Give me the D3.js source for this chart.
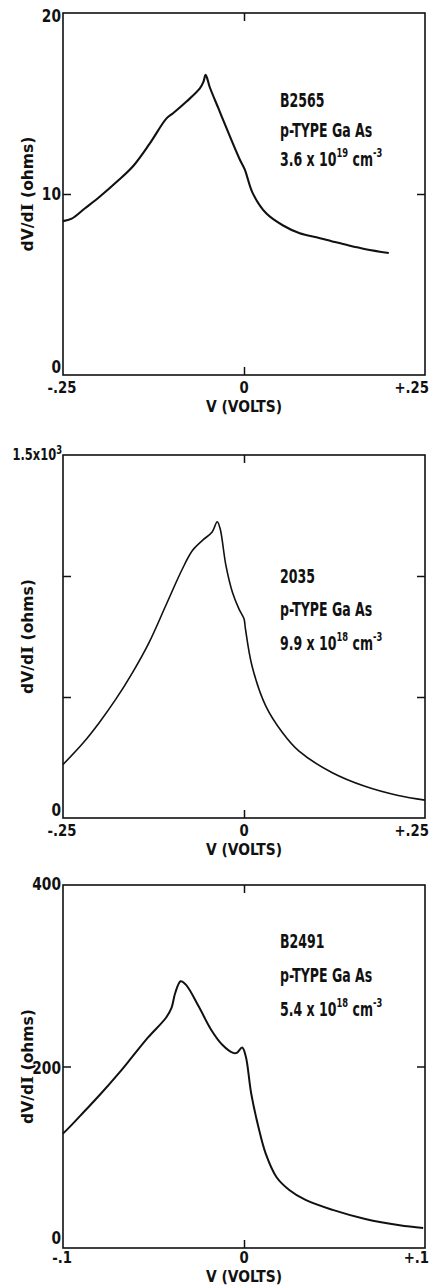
<!DOCTYPE html>
<html>
<head>
<meta charset="utf-8">
<script src="https://cdn.jsdelivr.net/npm/d3@7"></script>
<style>
  body { margin: 0; background: #fff; }
  text { font-family: "DejaVu Sans Condensed", "DejaVu Sans", sans-serif; fill: #111; font-weight: bold; }
</style>
</head>
<body>
<script>
// panel 1: B2565, dV/dI (ohms) vs V (volts)
const volts1 = [-0.250, -0.238, -0.220, -0.199, -0.175, -0.153, -0.130, -0.107, -0.098, -0.079, -0.061, -0.056, -0.053,
  -0.047, -0.035, -0.024, -0.006, 0.001, 0.012, 0.031, 0.054, 0.077, 0.100, 0.122, 0.145, 0.168, 0.200];
const ohms1 = [8.5, 8.64, 9.2, 9.86, 10.7, 11.55, 12.8, 14.18, 14.46, 15.12, 15.83, 16.2, 16.58,
  15.87, 14.7, 13.62, 11.92, 11.36, 10.05, 8.92, 8.26, 7.83, 7.61, 7.38, 7.15, 6.95, 6.74];

// panel 2: 2035
const volts2 = [-0.250, -0.222, -0.200, -0.177, -0.154, -0.131, -0.108, -0.085, -0.071, -0.057, -0.044, -0.037,
  -0.033, -0.025, -0.016, -0.007, 0.000, 0.002, 0.011, 0.030, 0.053, 0.076, 0.122, 0.167, 0.213, 0.250];
const ohms2 = [221, 311, 394, 491, 601, 726, 878, 1030, 1106, 1148, 1182, 1224,
  1196, 1044, 933, 864, 823, 781, 629, 463, 353, 276, 187, 131, 93, 74];

// panel 3: B2491
const volts3 = [-0.100, -0.096, -0.088, -0.080, -0.069, -0.062, -0.053, -0.043, -0.040, -0.038, -0.035, -0.032,
  -0.025, -0.018, -0.012, -0.006, -0.004, -0.001, 0.001, 0.004, 0.008, 0.012, 0.018, 0.025, 0.034, 0.049,
  0.067, 0.086, 0.099];
const ohms3 = [126, 134, 151, 168, 193, 210, 232, 254, 265, 281, 294, 290,
  266, 240, 224, 215, 215, 221, 211, 170, 133, 104, 78, 64, 53, 42,
  32, 25, 22];

const xTickLabels1 = ["-.25", "0", "+.25"];
const xTickLabels3 = ["-.1", "0", "+.1"];
const sampleNames = ["B2565", "2035", "B2491"];
const densities = [["3.6", "19"], ["9.9", "18"], ["5.4", "18"]];

const width = 433, height = 1287;
const svg = d3.select("body").append("svg")
  .attr("width", width)
  .attr("height", height);

const left = 63, right = 425;

const panels = [
  { top: 13, bottom: 375, volts: volts1, ohms: ohms1, xMax: 0.25, yMax: 20, yTicks: [10],
    yLabels: [[20, "20", 9], [10, "10", 6], [0, "0", -2]], xLabels: xTickLabels1, stroke: 2.1,
    annY: [107, 137, 166], tickDy: 18, titleDy: 37 },
  { top: 455, bottom: 818, volts: volts2, ohms: ohms2, xMax: 0.25, yMax: 1500, yTicks: [500, 1000],
    yLabels: [[0, "0", -2]], xLabels: xTickLabels1, stroke: 1.6,
    annY: [583, 616, 650], tickDy: 18, titleDy: 37 },
  { top: 885, bottom: 1248, volts: volts3, ohms: ohms3, xMax: 0.1, yMax: 400, yTicks: [200],
    yLabels: [[400, "400", 5], [200, "200", 7], [0, "0", -4]], xLabels: xTickLabels3, stroke: 2.0,
    annY: [948, 982, 1016], tickDy: 15, titleDy: 34 }
];

// text drawn with a small stretch, the original lettering is tall and narrow
function label(parent, x, y, size, sx, sy, anchor) {
  return parent.append("text")
    .attr("transform", `translate(${x},${y}) scale(${sx},${sy})`)
    .attr("text-anchor", anchor || "start")
    .style("font-size", size + "px");
}

panels.forEach((p, i) => {
  const x = d3.scaleLinear().domain([-p.xMax, p.xMax]).range([left, right]);
  const y = d3.scaleLinear().domain([0, p.yMax]).range([p.bottom, p.top]);
  const g = svg.append("g");

  // frame
  g.append("rect")
    .attr("x", left).attr("y", p.top)
    .attr("width", right - left).attr("height", p.bottom - p.top)
    .attr("fill", "none").attr("stroke", "#111").attr("stroke-width", 1.6);

  // inward ticks on all four sides
  const tickStyle = sel => {
    sel.select(".domain").remove();
    sel.selectAll("line").attr("stroke", "#111").attr("stroke-width", 1.5);
  };
  g.append("g").attr("transform", `translate(${left},0)`)
    .call(d3.axisLeft(y).tickValues(p.yTicks).tickSize(-8).tickFormat(""))
    .call(tickStyle);
  g.append("g").attr("transform", `translate(${right},0)`)
    .call(d3.axisRight(y).tickValues(p.yTicks).tickSize(-8).tickFormat(""))
    .call(tickStyle);
  g.append("g").attr("transform", `translate(0,${p.bottom})`)
    .call(d3.axisBottom(x).tickValues([0]).tickSize(-8).tickFormat(""))
    .call(tickStyle);
  g.append("g").attr("transform", `translate(0,${p.top})`)
    .call(d3.axisTop(x).tickValues([0]).tickSize(-8).tickFormat(""))
    .call(tickStyle);

  // curve
  const line = d3.line()
    .x((d, k) => x(p.volts[k]))
    .y(d => y(d))
    .curve(d3.curveCatmullRom.alpha(0.5));
  g.append("path")
    .datum(p.ohms)
    .attr("d", line)
    .attr("fill", "none")
    .attr("stroke", "#111")
    .attr("stroke-width", p.stroke)
    .attr("stroke-linejoin", "round");

  // y tick labels
  p.yLabels.forEach(([v, t, dy]) => {
    label(g, left - 2, y(v) + dy, 17, 0.9, 1.0, "end").text(t);
  });
  if (i === 1) {
    const t = label(g, left - 1, p.top + 5, 15, 0.85, 1.05, "end");
    t.append("tspan").text("1.5x10");
    t.append("tspan").attr("dy", -6).style("font-size", "11px").text("3");
  }

  // x tick labels
  [-p.xMax, 0, p.xMax].forEach((v, k) => {
    const xx = k === 2 ? right + 4 : (k === 0 ? left - 1 : x(v));
    label(g, xx, p.bottom + p.tickDy, 16, 0.92, 1.0, k === 2 ? "end" : "middle").text(p.xLabels[k]);
  });

  // axis titles
  label(g, x(0), p.bottom + p.titleDy, 14, 1.1, 1.15, "middle").text("V (VOLTS)");
  const yt = g.append("text")
    .attr("transform", `translate(33,${(p.top + p.bottom) / 2}) rotate(-90) scale(1.08,1)`)
    .attr("text-anchor", "middle")
    .style("font-size", "16px");
  yt.append("tspan").text("dV/d");
  yt.append("tspan").style("font-family", "'DejaVu Serif', serif").text("I");
  yt.append("tspan").text(" (ohms)");

  // annotation
  const ax = 280;
  label(g, ax, p.annY[0], 15, 0.93, 1.25).text(sampleNames[i]);
  label(g, ax, p.annY[1], 15, 0.93, 1.25).text("p-TYPE  Ga As");
  const d = label(g, ax, p.annY[2], 15, 0.93, 1.25);
  d.append("tspan").text(densities[i][0] + " x 10");
  d.append("tspan").attr("dy", -7).style("font-size", "10px").text(densities[i][1]);
  d.append("tspan").attr("dy", 7).text(" cm");
  d.append("tspan").attr("dy", -7).style("font-size", "10px").text("-3");
});
</script>
</body>
</html>
